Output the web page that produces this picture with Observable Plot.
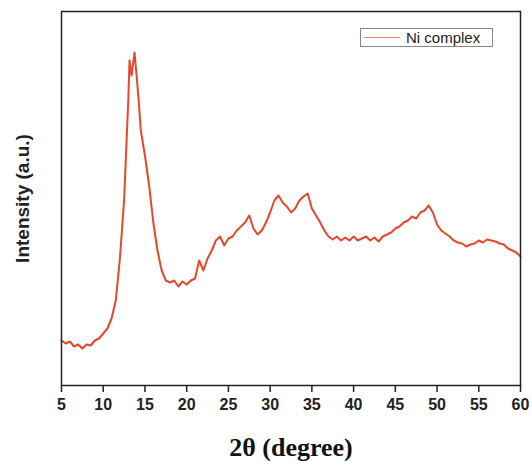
<!DOCTYPE html>
<html>
<head>
<meta charset="utf-8">
<script src="https://cdn.jsdelivr.net/npm/d3@7"></script>
<script src="https://cdn.jsdelivr.net/npm/@observablehq/plot@0.6"></script>
<style>
  html, body { margin: 0; padding: 0; background: #fff; }
  #wrap { position: relative; width: 531px; height: 461px; }
  #legend { position: absolute; left: 360px; top: 28px; width: 133px; height: 19px;
    border: 1px solid #888; background: #fff; font: 15px "Liberation Sans", Arial, sans-serif; color: #222;
    display: flex; align-items: center; box-sizing: border-box; }
  #legend .sw { display: inline-block; width: 36px; height: 1px; background: #f0837c; margin: 0 6px 0 3px; }
  svg g[aria-label="x-axis tick label"] text { font: bold 16px "Liberation Sans", Arial, sans-serif; fill: #222; }
  svg g[aria-label="x-axis label"] text { font: bold 26px "Liberation Serif", "Times New Roman", serif; fill: #111; }
</style>
</head>
<body>
<div id="wrap"></div>
<script>
const twoTheta = [5,5.5,6,6.5,7,7.5,8,8.5,9,9.5,10,10.5,11,11.5,12,12.5,12.75,13,13.15,13.4,13.75,14,14.25,14.5,15,15.5,16,16.5,17,17.5,18,18.5,19,19.5,20,20.5,21,21.5,22,22.5,23,23.5,24,24.5,25,25.5,26,26.5,27,27.5,28,28.5,29,29.5,30,30.5,31,31.5,32,32.5,33,33.5,34,34.5,35,35.5,36,36.5,37,37.5,38,38.5,39,39.5,40,40.5,41,41.5,42,42.5,43,43.5,44,44.5,45,45.5,46,46.5,47,47.5,48,48.5,49,49.5,50,50.5,51,51.5,52,52.5,53,53.5,54,54.5,55,55.5,56,56.5,57,57.5,58,58.5,59,59.5,60];
const ypix = [340,343,341,346,344,348,344,345,340,338,333,328,318,300,258,200,150,100,60,75,52,75,100,130,155,185,222,250,270,280,282,280,286,281,284,280,278,260,270,258,250,240,236,245,238,236,230,226,222,215,228,234,230,222,212,200,195,202,206,212,208,200,196,193,208,215,222,230,236,239,236,240,237,240,236,240,238,236,240,237,241,236,234,232,228,226,222,220,216,218,212,210,205,212,224,230,233,236,240,242,243,246,244,243,240,242,239,240,241,243,244,248,250,252,256];
const intensity = ypix.map(v => 385 - v);
const xTicks = [5,10,15,20,25,30,35,40,45,50,55,60];
const seriesName = "Ni complex";
const xLabel = "2θ (degree)";
const yLabel = "Intensity (a.u.)";

const data = twoTheta.map((t, i) => ({t, I: intensity[i]}));

const chart = Plot.plot({
  width: 531,
  height: 461,
  marginLeft: 61,
  marginRight: 11,
  marginTop: 11,
  marginBottom: 76,
  style: {background: "#fff", fontFamily: "Liberation Sans, Arial, sans-serif"},
  x: {domain: [5, 60]},
  y: {domain: [0, 374], axis: null},
  marks: [
    Plot.line(data, {x: "t", y: "I", stroke: "#e8472a", strokeWidth: 2, curve: "linear"}),
    Plot.frame({stroke: "#222", strokeWidth: 1.5}),
    Plot.axisX({ticks: xTicks, tickSize: 7, tickPadding: 6, stroke: "#222", strokeWidth: 1.5, label: xLabel, labelAnchor: "center", labelOffset: 70, labelArrow: "none"}),
    Plot.text([yLabel], {frameAnchor: "left", textAnchor: "middle", rotate: -90, dx: -39, fontSize: 19, fontWeight: "bold", fill: "#222", fontFamily: "Liberation Sans, Arial, sans-serif"})
  ]
});
const wrap = document.getElementById("wrap");
wrap.appendChild(chart);
const lg = document.createElement("div");
lg.id = "legend";
lg.innerHTML = '<span class="sw"></span><span>' + seriesName + '</span>';
wrap.appendChild(lg);
</script>
</body>
</html>
